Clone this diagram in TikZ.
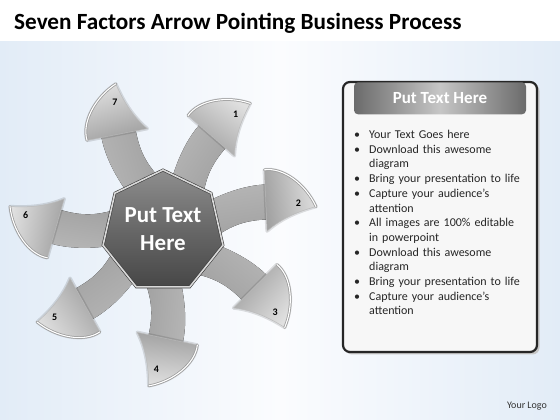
\documentclass[tikz,border=0pt]{standalone}
\usepackage{fontspec}
\setmainfont{Carlito}
\usetikzlibrary{shapes.geometric}
\definecolor{bgblue}{HTML}{E2ECF7}
\definecolor{bgwhite}{HTML}{FBFCFE}
\definecolor{shaftlt}{HTML}{B6B6B6}
\definecolor{shaftdk}{HTML}{9F9F9F}
\definecolor{headdk}{HTML}{A0A0A0}
\definecolor{headlt}{HTML}{E0E0E0}
\definecolor{headrim}{HTML}{BBBBBB}
\definecolor{rimgray}{HTML}{9A9A9A}
\definecolor{heptlt}{HTML}{8E8E8E}
\definecolor{heptmd}{HTML}{686868}
\definecolor{heptdk}{HTML}{474747}
\definecolor{heptline}{HTML}{3A3A3A}
\definecolor{heptband}{HTML}{D9D9D9}
\definecolor{panelfill}{HTML}{F7F7F7}
\definecolor{panelline}{HTML}{262626}
\definecolor{hdrdk}{HTML}{6B6B6B}
\definecolor{hdrlt}{HTML}{C6C6C6}
\definecolor{listtext}{HTML}{262626}

\begin{document}
\begin{tikzpicture}[x=1pt,y=1pt,
  every node/.style={inner sep=0pt},
  shaft/.style={top color=shaftlt, bottom color=shaftdk},
  halo/.style={draw=black, draw opacity=0.12, line width=3.5pt, line join=round},
  head/.style={left color=headdk, right color=headlt, draw=headrim, line width=0.5pt},
  rim/.style={draw=rimgray, line width=2.6pt, line cap=round},
  bevel/.style={draw=white, line width=1.1pt, line cap=round},
  numlbl/.style={font=\fontsize{10}{12}\selectfont\bfseries, text=black},
  hept/.style={regular polygon, regular polygon sides=7, minimum size=123pt,
    top color=heptlt, bottom color=heptdk, middle color=heptmd,
    draw=heptline, double=heptband, double distance=1.6pt, line width=0.6pt},
  hubtext/.style={align=center, text=white, font=\fontsize{23}{28}\selectfont\bfseries},
  panelbox/.style={draw=panelline, line width=2.2pt, fill=panelfill, rounded corners=7pt},
  headbar/.style={left color=hdrdk, right color=hdrdk, middle color=hdrlt, rounded corners=4pt,
    text=white, font=\fontsize{17}{20}\selectfont\bfseries},
  bullets/.style={text width=180pt, text=listtext, font=\fontsize{12}{14.7}\selectfont},
  titletxt/.style={font=\fontsize{23.2}{28}\selectfont\bfseries, text=black},
  logotxt/.style={font=\fontsize{10}{12}\selectfont, text=black!80}
]
\useasboundingbox (0,0) rectangle (560,420);
\fill[left color=bgblue, right color=bgblue, middle color=bgwhite] (0,0) rectangle (560,378);

\node[titletxt, anchor=base west] (title) at (14,390) {Seven Factors Arrow Pointing Business Process};

\coordinate (o) at (163,188.5);
\foreach \k/\rot in {1/55, 2/8.5, 3/-39, 4/-96, 5/-145, 6/170, 7/107}{
  \pgfmathsetmacro{\hrot}{\rot+90}
  \begin{scope}[shift={(o)}, rotate=\rot]
    \fill[shaft, shading angle=\rot] (21.8,11.5) .. controls (46.5,24.6) and (80,34.3) .. (107.8,31.4)
      -- (104.2,-3.4) .. controls (76.4,-0.5) and (62.9,-6.4) .. (38.2,-19.5) -- cycle;
    \draw[halo] (109.3,46) .. controls (128,46) and (148,26) .. (155,2)
      .. controls (138,0) and (120,-4) .. (103,-15) -- cycle;
    \draw[head, shading angle=\hrot] (109.3,46) .. controls (128,46) and (148,26) .. (155,2)
      .. controls (138,0) and (120,-4) .. (103,-15) -- cycle;
    \draw[rim] (109.3,46) .. controls (128,46) and (148,26) .. (155,2);
    \draw[bevel] (109.3,46) .. controls (128,46) and (148,26) .. (155,2);
    \node[numlbl] (n\k) at (138,8) {\k};
  \end{scope}
}

\node[hept] (hub) at (o) {};
\node[hubtext] (hubtxt) at ([yshift=2]hub.center) {Put Text\\Here};

\fill[black!22, rounded corners=7pt] (345,65.5) rectangle (539.5,336);
\node[panelbox, minimum width=194pt, minimum height=270pt] (panel) at (440,203) {};
\node[headbar, anchor=north, minimum width=172pt, minimum height=32pt] (hdr) at ([yshift=-1.2]panel.north) {Put Text Here};
\node[bullets, anchor=north west] (list) at (354,290) {\parindent=0pt
  \hangindent=15pt\hangafter=1\makebox[15pt][l]{\textbullet}Your Text Goes here\par
  \hangindent=15pt\hangafter=1\makebox[15pt][l]{\textbullet}Download this awesome\newline diagram\par
  \hangindent=15pt\hangafter=1\makebox[15pt][l]{\textbullet}Bring your presentation to life\par
  \hangindent=15pt\hangafter=1\makebox[15pt][l]{\textbullet}Capture your audience’s\newline attention\par
  \hangindent=15pt\hangafter=1\makebox[15pt][l]{\textbullet}All images are 100\% editable\newline in powerpoint\par
  \hangindent=15pt\hangafter=1\makebox[15pt][l]{\textbullet}Download this awesome\newline diagram\par
  \hangindent=15pt\hangafter=1\makebox[15pt][l]{\textbullet}Bring your presentation to life\par
  \hangindent=15pt\hangafter=1\makebox[15pt][l]{\textbullet}Capture your audience’s\newline attention\par};

\node[logotxt] (logo) at (527,14) {Your Logo};
\end{tikzpicture}
\end{document}
